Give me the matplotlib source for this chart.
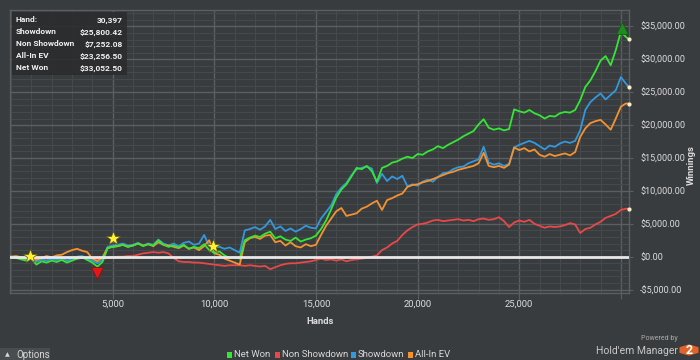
import matplotlib
matplotlib.use("Agg")
import matplotlib.pyplot as plt
from matplotlib.patches import Rectangle, RegularPolygon
from matplotlib.ticker import MultipleLocator, FuncFormatter, FixedLocator
import numpy as np

plt.rcParams['font.family'] = ['Roboto', 'DejaVu Sans']

# ---------------- data ----------------
step = 250
n_pts = 122
final_hand = 30397

net_won = [0, -200, -400, -600, -300, -1200, -700, -900, -600, -800,
           -500, -900, -600, -300, -100, -500, -900, -1500, -800, 1300,
           1500, 1600, 1800, 1500, 1700, 2000, 1600, 1900, 1700, 2500,
           1800, 1500, 1700, 1400, 1800, 1200, 1500, 1300, 1900, 1000,
           600, 800, 200, -200, -100, -300, 2500, 2900, 3200, 3000,
           3500, 3800, 2800, 3100, 2600, 2400, 2900, 2300, 2600, 2800,
           3200, 4200, 5500, 7200, 9000, 10200, 11000, 12200, 13500, 13300,
           13800, 13000, 11400, 13500, 13800, 14300, 14500, 14900, 15200, 15000,
           15600, 15500, 16000, 16300, 16800, 16500, 17000, 17400, 17800, 18300,
           18700, 19100, 20100, 20900, 19600, 19300, 19500, 19200, 19400, 22400,
           22100, 21900, 22300, 21800, 21500, 21000, 21400, 21300, 21800, 22000,
           21900, 22300, 23800, 25800, 26800, 28200, 29800, 30500, 29100, 31400,
           34200, 33400, 33052.50]

showdown = [0, -100, -300, -500, -200, -800, -400, -600, -300, -500,
            -200, -600, -300, 0, 100, -300, -600, -1000, -500, 1500,
            1700, 1800, 2000, 1700, 1800, 2100, 1700, 2000, 1800, 2600,
            2000, 1700, 2000, 1600, 2100, 2300, 1800, 2000, 3300, 1600,
            1400, 1500, 1200, 1400, 1000, 600, 4000, 4200, 4500, 4100,
            4600, 5600, 4200, 4600, 3900, 4300, 3800, 4200, 4700, 4400,
            4300, 5800, 6800, 7800, 9500, 10500, 11200, 12400, 13300, 13500,
            13700, 13400, 11200, 12600, 11500, 12200, 11800, 12300, 10700, 11000,
            10800, 11400, 11700, 11400, 12100, 12700, 12800, 13300, 13600, 13700,
            14200, 14500, 14800, 16700, 14300, 14000, 14200, 13800, 14100, 16600,
            17000, 17300, 17600, 17300, 16800, 16300, 16900, 16700, 17200, 17500,
            17300, 17600, 19200, 22300, 23500, 24200, 24800, 23900, 24600, 25300,
            27300, 26300, 25800.42]

all_in_ev = [0, 100, -100, -300, 0, -500, -200, 100, -100, 200,
             300, 700, 1000, 1200, 900, 700, -300, -700, -100, 1300,
             1500, 1600, 1800, 1500, 1700, 2000, 1700, 1900, 1600, 2200,
             1800, 1700, 1500, 1300, 1700, 1200, 1400, 1000, 1600, 2500,
             500, 300, -300, -600, -900, -1200, 2200, 2800, 3000, 2700,
             3200, 3300, 2200, 2400, 1700, 2200, 1600, 1400, 1900, 1600,
             1800, 3300, 4700, 5800, 6900, 7400, 6200, 6400, 6600, 7300,
             7600, 8100, 8500, 7100, 8600, 8900, 9300, 9600, 10600, 10900,
             11000, 11300, 11500, 11800, 12100, 12400, 12700, 12900, 13200, 13400,
             13600, 13800, 14200, 15800, 13800, 13600, 13800, 13500, 14000, 16600,
             16200, 16500, 16000, 16300, 15500, 15200, 15600, 15300, 15500, 15700,
             15400, 15900, 18200, 19500, 20300, 20600, 20800, 20100, 19300, 21000,
             22800, 23300, 23256.50]

non_showdown = [0, -100, -100, -100, -200, -300, -200, -300, -300, -200,
                -300, -300, -200, -300, -200, -200, -300, -400, -300, -200,
                -100, 0, 0, 100, 100, 300, 500, 600, 700, 600,
                700, 500, -200, -700, -800, -800, -900, -900, -1000, -1100,
                -1200, -1300, -1400, -1300, -1300, -1300, -1400, -1300, -1400, -1500,
                -1400, -1900, -1600, -1300, -1100, -1000, -1000, -900, -800, -700,
                -500, -300, -500, -400, -600, -400, -700, -500, -400, -300,
                -200, 0, 200, 1000, 1400, 2000, 2400, 3300, 4000, 4500,
                4900, 5000, 5200, 5500, 5600, 5400, 5500, 5600, 5700, 5500,
                5600, 5400, 5700, 5800, 5600, 5700, 6000, 5400, 4500, 5200,
                5500, 5300, 5600, 5000, 4700, 4400, 4600, 4500, 4600, 4800,
                5100, 4900, 3600, 4200, 4400, 4900, 5300, 5900, 6200, 6500,
                7100, 7300, 7252.08]

hands = [i * step for i in range(n_pts)] + [final_hand]

star_hands = [935, 5000, 9950]
star_values = [100, 2790, 1670]
min_hand, min_value = 4210, -2520
max_hand, max_value = 30040, 34750

stats_labels = ["Hand:", "Showdown", "Non Showdown", "All-In EV", "Net Won"]
stats_values = ["30,397", "$25,800.42", "$7,252.08", "$23,256.50", "$33,052.50"]

legend_names = ["Net Won", "Non Showdown", "Showdown", "All-In EV"]

# ---------------- style ----------------
bg = "#393c3f"
grid_major = "#5c5f62"
grid_minor = "#46494c"
txt = "#dcdcdc"
c_green = "#35e635"
c_red = "#e84848"
c_blue = "#3398dc"
c_orange = "#f59230"

W, H = 700, 360
fig = plt.figure(figsize=(7, 3.6), dpi=100, facecolor=bg)
ax = fig.add_axes([10 / W, 1 - 293 / H, 619 / W, 283 / H], facecolor=bg)

ax.set_xlim(-50, 30400)
ax.set_ylim(-5520, 37500)

ax.xaxis.set_major_locator(FixedLocator([5000, 10000, 15000, 20000, 25000, 30000]))
ax.xaxis.set_minor_locator(MultipleLocator(1000))
ax.yaxis.set_major_locator(MultipleLocator(5000))
ax.yaxis.set_minor_locator(MultipleLocator(1000))
ax.xaxis.set_major_formatter(FuncFormatter(lambda v, p: "" if v >= 30000 else f"{int(v):,}"))


def money(v, p):
    s = f"${abs(v):,.2f}"
    return "-" + s if v < 0 else s


ax.yaxis.set_major_formatter(FuncFormatter(money))
ax.yaxis.tick_right()
ax.grid(which="major", color=grid_major, lw=1.0, zorder=0)
ax.grid(which="minor", color=grid_minor, lw=0.8, zorder=0)
ax.set_axisbelow(True)
ax.tick_params(axis="x", which="major", length=4, color=grid_major, labelcolor=txt, labelsize=6.8, pad=0.5)
ax.tick_params(axis="y", which="major", length=3, color=grid_major, labelcolor=txt, labelsize=6.5, pad=5)
ax.tick_params(which="minor", length=0)
for s in ax.spines.values():
    s.set_color(grid_major)
    s.set_linewidth(1.0)

lw = 1.3
ax.plot(hands, non_showdown, color=c_red, lw=lw, zorder=3)
ax.plot(hands, showdown, color=c_blue, lw=lw, zorder=4)
ax.plot(hands, all_in_ev, color=c_orange, lw=lw, zorder=5)
ax.plot(hands, net_won, color=c_green, lw=lw, zorder=6)
ax.axhline(0, color="#e8e8e8", lw=2.0, zorder=7)

# end dots
for ser in (net_won, showdown, all_in_ev, non_showdown):
    ax.plot([hands[-1]], [ser[-1]], "o", ms=3, color="#f6efc4", mec="none", zorder=9, clip_on=False)

ax.plot(star_hands, star_values, "*", ms=10, color="#fff030", mec="#5a5a20", mew=0.5, zorder=10, ls="none")
ax.plot([min_hand], [min_value], "v", ms=8, color="#e01818", mec="#801010", mew=0.5, zorder=10)
ax.plot([max_hand], [max_value], "^", ms=8, color="#1f8a1f", mec="#145214", mew=0.5, zorder=10, clip_on=False)

fig.text(320 / W, 1 - 322 / H, "Hands", color=txt, fontsize=6.8, fontweight="bold", ha="center", va="center")
fig.text(691 / W, 1 - 165 / H, "Winnings", color=txt, fontsize=6.8, fontweight="bold", rotation=90,
         ha="center", va="center")

# stats box
fig.patches.append(Rectangle((12 / W, 1 - 75 / H), 115 / W, 63 / H, transform=fig.transFigure,
                             facecolor="#2a2c2e", edgecolor="none", alpha=0.9, zorder=20))
for i, (lab, val) in enumerate(zip(stats_labels, stats_values)):
    y = 1 - (20 + 12 * i) / H
    fig.text(16 / W, y, lab, color="#f0f0f0", fontsize=6.0, fontweight="bold", va="center", ha="left", zorder=21)
    fig.text(123 / W, y, val, color="#f0f0f0", fontsize=6.0, fontweight="bold", va="center", ha="right", zorder=21)

# legend
legend_colors = [c_green, c_red, c_blue, c_orange]
legend_x = [227, 275, 351, 408]
for name, col, lx in zip(legend_names, legend_colors, legend_x):
    fig.patches.append(Rectangle((lx / W, 1 - 358 / H), 5 / W, 6 / H, transform=fig.transFigure,
                                 facecolor=col, edgecolor="none"))
    fig.text((lx + 7) / W, 1 - 354.5 / H, name, color="#d8d8d8", fontsize=6.8, va="center", ha="left")

# options button
fig.patches.append(Rectangle((0, 0), 50 / W, 12 / H, transform=fig.transFigure,
                             facecolor="#4a4d50", edgecolor="none"))
fig.text(5 / W, 1 - 354.5 / H, "\u25b2", color="#d8d8d8", fontsize=4.5, va="center", ha="left",
         family=["DejaVu Sans"])
fig.text(16 / W, 1 - 354.5 / H, "Options", color="#d8d8d8", fontsize=7, va="center", ha="left")

# powered by
fig.text(678 / W, 1 - 338 / H, "Powered by", color="#aaaaaa", fontsize=5, ha="right", va="center")
fig.text(678 / W, 1 - 351 / H, "Hold'em Manager", color="#c8c8c8", fontsize=7.5, ha="right", va="center")
fig.patches.append(RegularPolygon((689 / W, 1 - 350 / H), numVertices=6, radius=11 / W,
                                  transform=fig.transFigure, facecolor="#e0642a", edgecolor="none"))
fig.text(689 / W, 1 - 351 / H, "2", color="white", fontsize=9, fontweight="bold", ha="center", va="center")

fig.savefig("out.png", dpi=100, facecolor=bg)
